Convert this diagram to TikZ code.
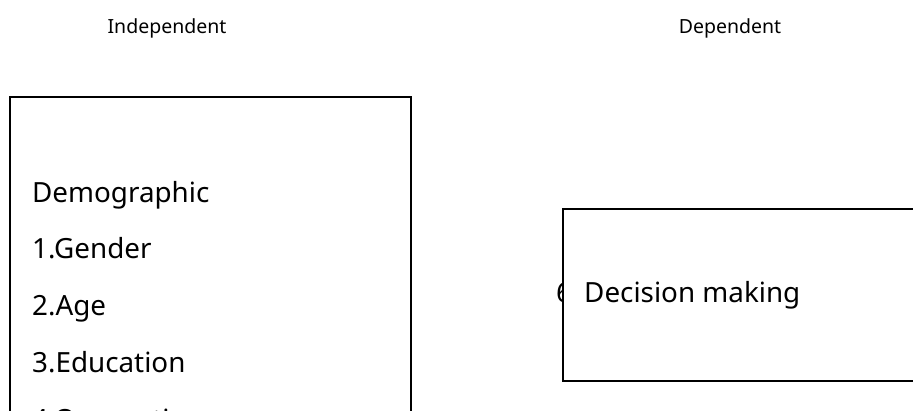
\documentclass[tikz,border=0pt]{standalone}
\usepackage{fontspec}
\setmainfont{Noto Sans}
\begin{document}
\begin{tikzpicture}[x=1pt,y=-1pt,
  boxline/.style={draw=black,line width=1.6pt},
  bigtxt/.style={anchor=base west,inner sep=0pt,font=\fontsize{27.8}{32}\selectfont},
  headtxt/.style={inner sep=0pt,font=\fontsize{19.5}{24}\selectfont}]
\useasboundingbox (0,0) rectangle (913,410);
\clip (0,0) rectangle (913,410);
\node[headtxt] (indep) at (167,28) {Independent};
\node[headtxt] (dep) at (730,28) {Dependent};
\draw[boxline] (10,97) rectangle (411,440);
\node[bigtxt] (demo) at (32,202) {Demographic};
\node[bigtxt] (gender) at (32,258) {1.Gender};
\node[bigtxt] (age) at (32,315) {2.Age};
\node[bigtxt] (edu) at (32,372) {3.Education};
\node[bigtxt] (occ) at (32,429) {4.Occupation};
\node[bigtxt] (hidden) at (556,302) {6};
\draw[boxline,fill=white] (563,209) rectangle (930,381);
\node[bigtxt] (dec) at (584,302) {Decision making};
\end{tikzpicture}
\end{document}
